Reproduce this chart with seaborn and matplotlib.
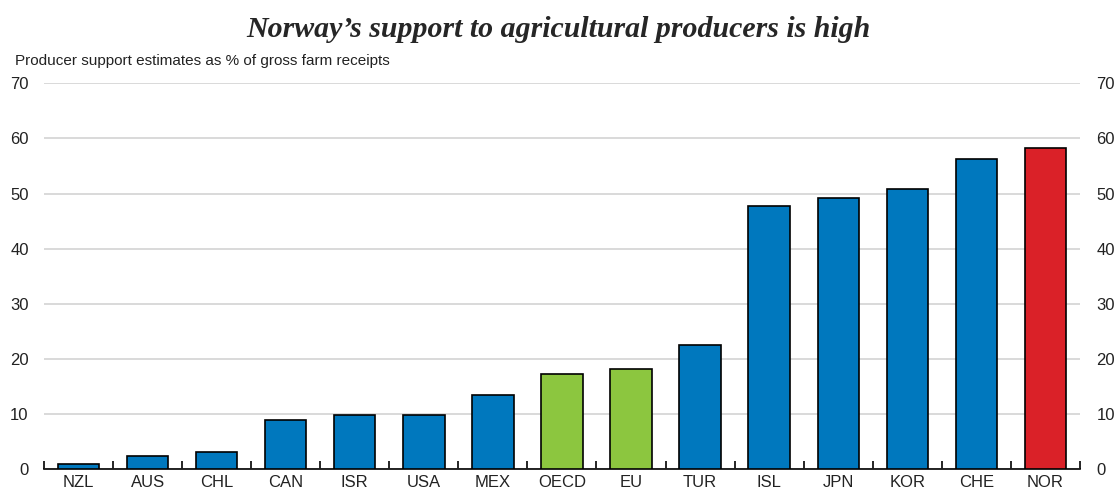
import matplotlib.pyplot as plt
import numpy as np
import pandas as pd
import seaborn as sns

countries = ['NZL', 'AUS', 'CHL', 'CAN', 'ISR', 'USA', 'MEX', 'OECD', 'EU',
             'TUR', 'ISL', 'JPN', 'KOR', 'CHE', 'NOR']
pse = [1.0, 2.4, 3.0, 8.9, 9.8, 9.8, 13.4, 17.2, 18.1,
       22.5, 47.7, 49.2, 50.9, 56.2, 58.2]
groups = ['country'] * 7 + ['aggregate'] * 2 + ['country'] * 5 + ['norway']

palette = {'country': '#0078BE', 'aggregate': '#8CC63F', 'norway': '#DA2128'}

df = pd.DataFrame({'country': countries, 'pse': pse, 'group': groups})

sns.set_style('white')
plt.rcParams['font.family'] = ['Liberation Sans', 'DejaVu Sans']

fig = plt.figure(figsize=(11.16, 4.92), dpi=100)
ax = fig.add_axes([0.0394, 0.0467, 0.9283, 0.784])

sns.barplot(data=df, x='country', y='pse', hue='group', palette=palette,
            dodge=False, width=0.6, edgecolor='black', linewidth=1.2,
            saturation=1, legend=False, ax=ax, zorder=3)

ax.set_ylim(0, 70)
ax.set_xlim(-0.5, len(countries) - 0.5)
ax.set_yticks(np.arange(0, 71, 10))
ax.yaxis.grid(True, color='#D0D0D0', linewidth=1.1, zorder=0)
ax.set_axisbelow(True)
for s in ['left', 'right', 'top']:
    ax.spines[s].set_visible(False)
ax.spines['bottom'].set_color('black')
ax.spines['bottom'].set_linewidth(1.2)

# ticks between categories, pointing up
ax.set_xticks(np.arange(-0.5, len(countries), 1), minor=True)
ax.tick_params(axis='x', which='minor', direction='in', length=6, width=1.2,
               color='black', bottom=True)
ax.tick_params(axis='x', which='major', length=0, labelsize=12, pad=4,
               labelcolor='#222222')
ax.tick_params(axis='y', length=0, labelsize=12, pad=11, labelcolor='#222222')
ax.set_xlabel('')
ax.set_ylabel('')

ax2 = ax.twinx()
ax2.set_ylim(ax.get_ylim())
ax2.set_yticks(np.arange(0, 71, 10))
ax2.tick_params(axis='y', length=0, labelsize=12, pad=12, labelcolor='#222222')
for s in ['left', 'right', 'top', 'bottom']:
    ax2.spines[s].set_visible(False)

fig.text(0.5, 0.94, 'Norway\u2019s support to agricultural producers is high',
         ha='center', va='center', fontsize=21.5, fontweight='bold',
         fontstyle='italic', family=['Liberation Serif', 'DejaVu Serif'])
fig.text(0.013, 0.877, 'Producer support estimates as % of gross farm receipts',
         ha='left', va='center', fontsize=11, color='#222222')

fig.savefig('out.png', dpi=100)
